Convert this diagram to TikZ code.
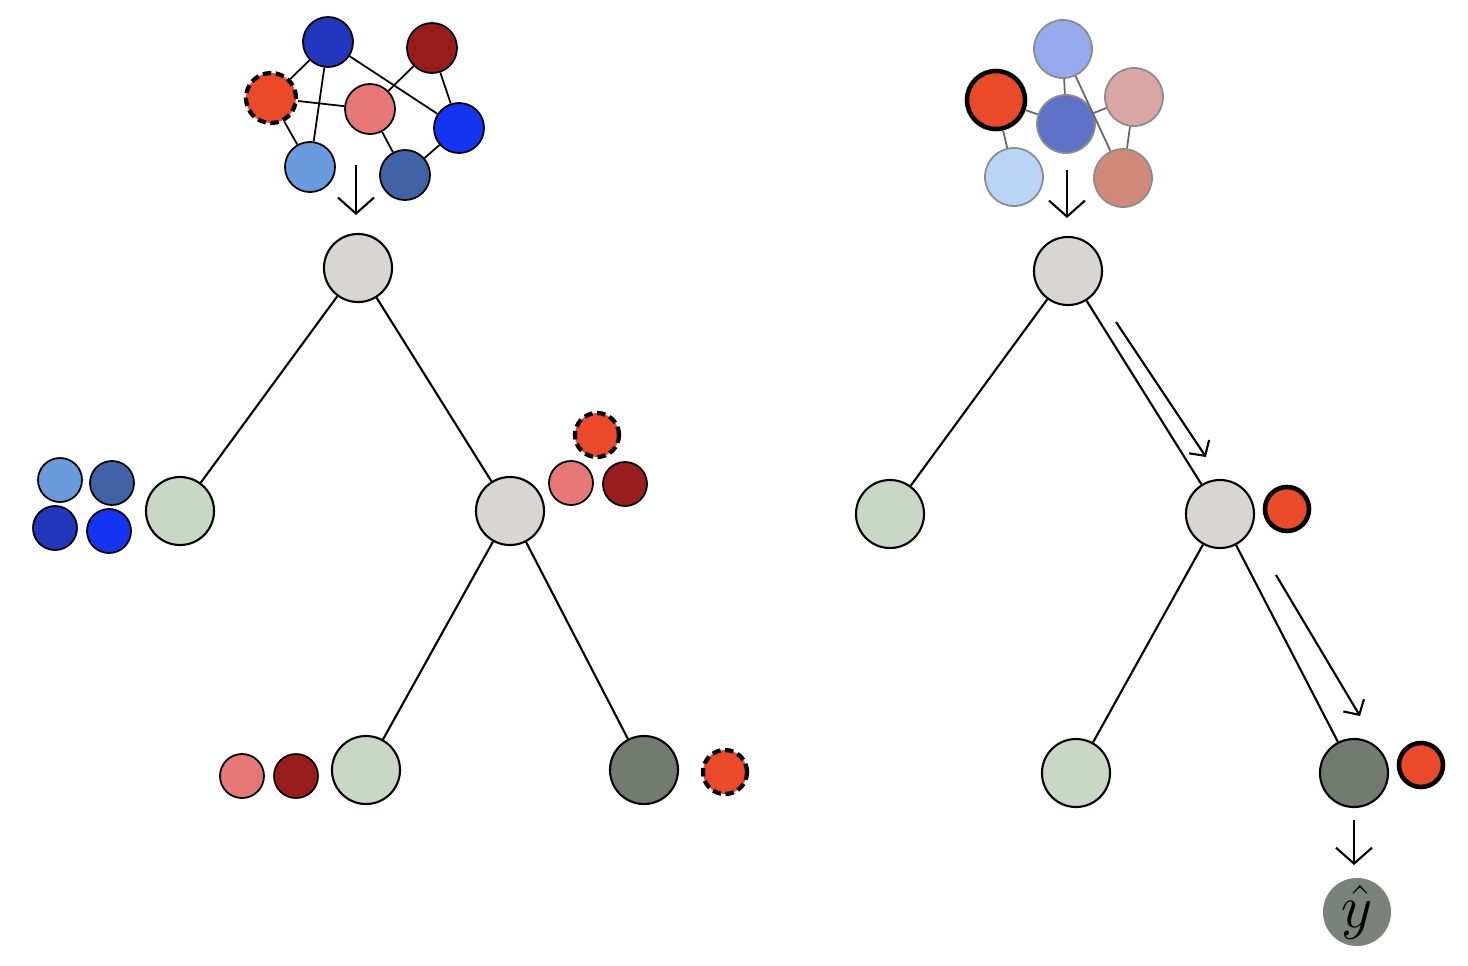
\documentclass[tikz,border=0pt]{standalone}
\usepackage{amsmath,amssymb}
\usepackage{xcolor}
\usepackage{tikz}
\usetikzlibrary{arrows.meta,positioning}

\definecolor{nodegray}{HTML}{D8D5D5}
\definecolor{leafgreen}{HTML}{C9D7C5}
\definecolor{leafdark}{HTML}{737B71}
\definecolor{predgray}{HTML}{7B817B}
\definecolor{cdarkblue}{HTML}{2138BE}
\definecolor{cbrightblue}{HTML}{1335F2}
\definecolor{clightblue}{HTML}{6A9BDF}
\definecolor{csteelblue}{HTML}{4063A7}
\definecolor{cdarkred}{HTML}{9A1D1D}
\definecolor{cpink}{HTML}{E77878}
\definecolor{corange}{HTML}{EA4A29}
\definecolor{cperi}{HTML}{95A9EC}
\definecolor{cmidblue}{HTML}{5E72C8}
\definecolor{crose}{HTML}{D9A5A5}
\definecolor{csalmon}{HTML}{D1897A}
\definecolor{cpaleblue}{HTML}{B9D4F4}

\begin{document}
\begin{tikzpicture}[
  x=0.01cm, y=-0.01cm,
  tree/.style={circle, draw, line width=0.6pt, minimum size=0.68cm, inner sep=0pt},
  sample/.style={circle, draw, line width=0.5pt, minimum size=0.44cm, inner sep=0pt},
  gnode/.style={circle, draw, line width=0.5pt, minimum size=0.5cm, inner sep=0pt},
  hnode/.style={circle, draw=black!45, line width=0.5pt, minimum size=0.58cm, inner sep=0pt},
  query/.style={line width=1.2pt, dash pattern=on 2.4pt off 1.3pt},
  chosen/.style={line width=1.3pt},
  down/.style={-{Straight Barb[length=1.6mm, width=3.6mm]}, line width=0.6pt},
  path/.style={-{Straight Barb[length=1.1mm, width=2.4mm]}, line width=0.6pt}
]
  \useasboundingbox (0,0) rectangle (1468,966);

  % left: training graph
  \node[gnode, fill=cdarkblue] (ga) at (328,42) {};
  \node[gnode, fill=cdarkred] (gb) at (432,48) {};
  \node[gnode, fill=corange, query] (gc) at (271,98) {};
  \node[gnode, fill=cpink] (gd) at (370,109) {};
  \node[gnode, fill=cbrightblue] (ge) at (459,128) {};
  \node[gnode, fill=clightblue] (gf) at (310,167) {};
  \node[gnode, fill=csteelblue] (gg) at (405,175) {};
  \foreach \a/\b in {ga/gc, ga/gf, ga/ge, gc/gd, gc/gf, gd/gb, gd/gg, gb/ge, ge/gg}
    \draw[line width=0.5pt] (\a) -- (\b);

  % left: tree
  \node[tree, fill=nodegray] (root) at (358,268) {};
  \node[tree, fill=leafgreen] (l1) at (180,511) {};
  \node[tree, fill=nodegray] (r1) at (510,511) {};
  \node[tree, fill=leafgreen] (l2) at (366,770) {};
  \node[tree, fill=leafdark] (r2) at (644,770) {};
  \coordinate (gtop) at (356,165);
  \coordinate (gbot) at (356,215);
  \draw[down] (gtop) -- (gbot);
  \draw[line width=0.6pt] (root) -- (l1);
  \draw[line width=0.6pt] (root) -- (r1);
  \draw[line width=0.6pt] (r1) -- (l2);
  \draw[line width=0.6pt] (r1) -- (r2);

  % samples at the leaves
  \node[sample, fill=clightblue] (s1) at (60,480) {};
  \node[sample, fill=csteelblue] (s2) at (112,483) {};
  \node[sample, fill=cdarkblue] (s3) at (55,528) {};
  \node[sample, fill=cbrightblue] (s4) at (109,531) {};
  \node[sample, fill=corange, query] (s5) at (597,435) {};
  \node[sample, fill=cpink] (s6) at (571,483) {};
  \node[sample, fill=cdarkred] (s7) at (625,484) {};
  \node[sample, fill=cpink] (s8) at (242,776) {};
  \node[sample, fill=cdarkred] (s9) at (296,776) {};
  \node[sample, fill=corange, query] (s10) at (725,772) {};

  % right: test graph
  \node[hnode, fill=cperi] (ha) at (1063,49) {};
  \node[hnode, draw=black, fill=corange, chosen] (hb) at (996,100) {};
  \node[hnode, fill=cmidblue] (hc) at (1066,124) {};
  \node[hnode, fill=crose] (hd) at (1134,97) {};
  \node[hnode, fill=cpaleblue] (he) at (1014,177) {};
  \node[hnode, fill=csalmon] (hf) at (1123,178) {};
  \foreach \a/\b in {ha/hc, ha/hf, hb/hc, hb/he, hc/hd, hd/hf}
    \draw[black!60, line width=0.5pt] (\a) -- (\b);

  % right: tree
  \node[tree, fill=nodegray] (troot) at (1068,271) {};
  \node[tree, fill=leafgreen] (tl1) at (890,514) {};
  \node[tree, fill=nodegray] (tr1) at (1220,514) {};
  \node[tree, fill=leafgreen] (tl2) at (1076,773) {};
  \node[tree, fill=leafdark] (tr2) at (1354,773) {};
  \node[circle, fill=predgray, minimum size=0.68cm, inner sep=0pt] (yhat) at (1357,912) {\LARGE$\hat{y}$};
  \coordinate (htop) at (1067,170);
  \coordinate (hbot) at (1067,218);
  \draw[down] (htop) -- (hbot);
  \draw[line width=0.6pt] (troot) -- (tl1);
  \draw[line width=0.6pt] (troot) -- (tr1);
  \draw[line width=0.6pt] (tr1) -- (tl2);
  \draw[line width=0.6pt] (tr1) -- (tr2);
  \draw[down] (tr2.south) ++(0,12) coordinate (ptop) -- ++(0,45) coordinate (pbot);

  % route of the query
  \coordinate (p1a) at (1116,322);
  \coordinate (p1b) at (1206,457);
  \coordinate (p2a) at (1276,575);
  \coordinate (p2b) at (1360,716);
  \draw[path] (p1a) -- (p1b);
  \draw[path] (p2a) -- (p2b);
  \node[sample, fill=corange, chosen] (q1) at (1287,509) {};
  \node[sample, fill=corange, chosen] (q2) at (1421,765) {};
\end{tikzpicture}
\end{document}
